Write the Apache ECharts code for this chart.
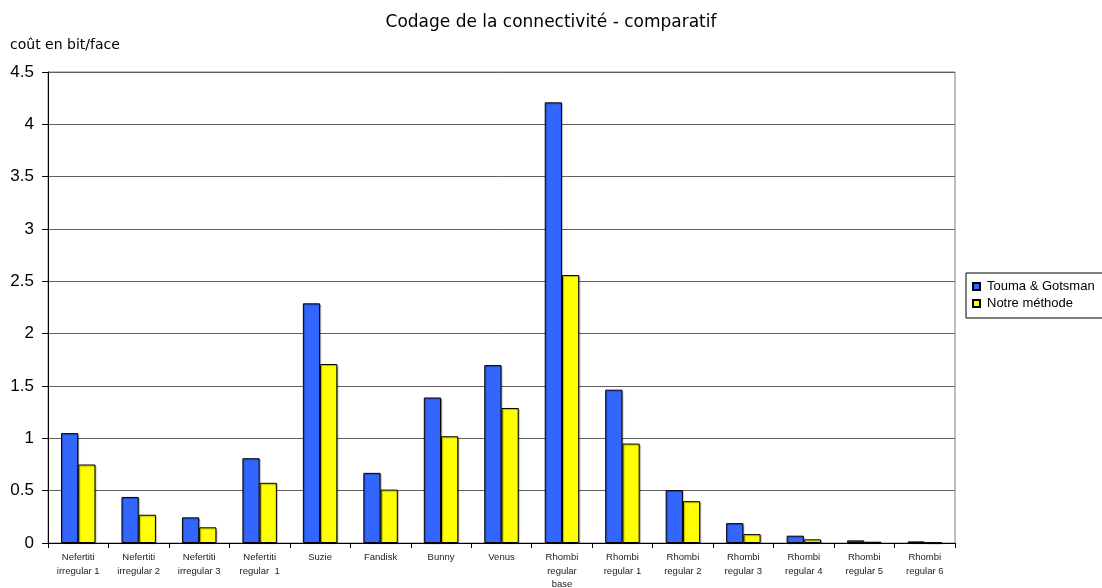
<!DOCTYPE html>
<html>
<head>
<meta charset="utf-8">
<script src="https://cdn.jsdelivr.net/npm/echarts@6/dist/echarts.min.js"></script>
<style>
  html, body { margin: 0; padding: 0; background: #fff; }
  #chart { width: 1102px; height: 588px; }
</style>
</head>
<body>
<div id="chart"></div>
<script>
// Models compared (x-axis categories, multi-line labels)
const categories = [
  'Nefertiti\nirregular 1', 'Nefertiti\nirregular 2', 'Nefertiti\nirregular 3', 'Nefertiti\nregular  1',
  'Suzie', 'Fandisk', 'Bunny', 'Venus',
  'Rhombi\nregular\nbase', 'Rhombi\nregular 1', 'Rhombi\nregular 2', 'Rhombi\nregular 3',
  'Rhombi\nregular 4', 'Rhombi\nregular 5', 'Rhombi\nregular 6'
];

// Connectivity cost in bits per face
const toumaGotsman = [1.05, 0.44, 0.245, 0.81, 2.29, 0.67, 1.39, 1.70, 4.21, 1.465, 0.505, 0.19, 0.07, 0.025, 0.015];
const notreMethode = [0.75, 0.27, 0.15, 0.575, 1.71, 0.51, 1.02, 1.29, 2.56, 0.95, 0.40, 0.085, 0.035, 0.012, 0.006];

const seriesNames = ['Touma & Gotsman', 'Notre méthode'];
const titleText = 'Codage de la connectivité - comparatif';
const yAxisTitle = 'coût en bit/face';

const chart = echarts.init(document.getElementById('chart'), null, { renderer: 'canvas' });

const barStyle = (color) => ({
  color: color,
  borderColor: '#000',
  borderWidth: 1,
  shadowColor: 'rgba(0,0,0,0.3)',
  shadowOffsetX: 1,
  shadowOffsetY: 1,
  shadowBlur: 1
});

chart.setOption({
  backgroundColor: '#fff',
  animation: false,
  title: [
    {
      text: titleText,
      left: 'center',
      top: 9,
      textStyle: { fontFamily: 'DejaVu Sans', fontSize: 17, fontWeight: 'normal', color: '#000' }
    },
    {
      text: yAxisTitle,
      left: 5,
      top: 33,
      textStyle: { fontFamily: 'DejaVu Sans', fontSize: 14, fontWeight: 'normal', color: '#000' }
    }
  ],
  legend: {
    orient: 'vertical',
    left: 966,
    top: 273,
    padding: [7, 40, 8, 6],
    itemGap: 4,
    itemWidth: 7,
    itemHeight: 7,
    borderColor: '#000',
    borderWidth: 1,
    icon: 'rect',
    textStyle: { fontFamily: 'Liberation Sans', fontSize: 13, color: '#000', padding: [0, 0, 0, 2] },
    data: seriesNames
  },
  grid: {
    left: 48,
    right: 147,
    top: 72,
    bottom: 45,
    outerBoundsMode: 'none',
    show: true,
    borderColor: '#808080',
    borderWidth: 1
  },
  xAxis: {
    type: 'category',
    data: categories,
    axisLine: { lineStyle: { color: '#000', width: 1 } },
    axisTick: { show: true, length: 5, alignWithLabel: false, lineStyle: { color: '#000' } },
    axisLabel: {
      interval: 0,
      margin: 8,
      fontFamily: 'Liberation Sans',
      fontSize: 9.5,
      lineHeight: 13.5,
      color: '#222'
    }
  },
  yAxis: {
    type: 'value',
    min: 0,
    max: 4.5,
    interval: 0.5,
    axisLine: { show: true, lineStyle: { color: '#000', width: 1 } },
    axisTick: { show: true, length: 6, lineStyle: { color: '#000' } },
    axisLabel: { margin: 14, fontFamily: 'Liberation Sans', fontSize: 17, color: '#000' },
    splitLine: { show: true, lineStyle: { color: '#606060', width: 1 } }
  },
  series: [
    {
      name: seriesNames[0],
      type: 'bar',
      data: toumaGotsman,
      barGap: '0%',
      barCategoryGap: '43%',
      itemStyle: barStyle('#3366FF')
    },
    {
      name: seriesNames[1],
      type: 'bar',
      data: notreMethode,
      barGap: '0%',
      barCategoryGap: '43%',
      itemStyle: barStyle('#FFFF00')
    }
  ]
});
</script>
</body>
</html>
